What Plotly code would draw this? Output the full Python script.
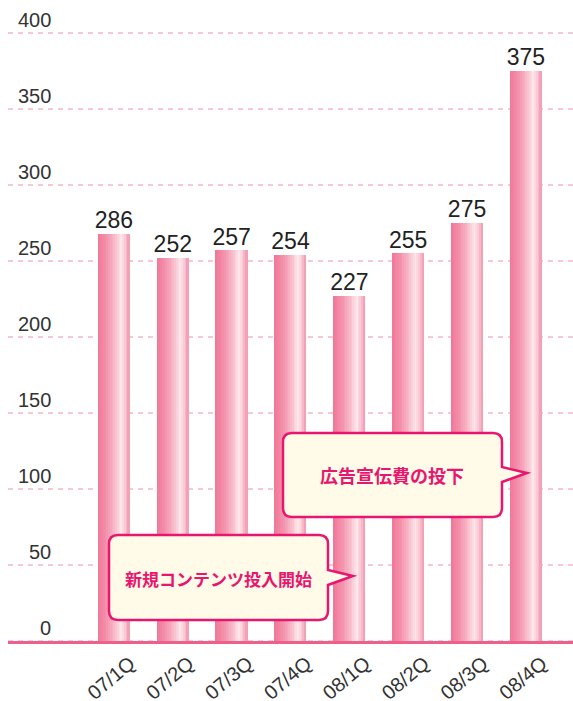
import plotly.graph_objects as go

# ---- data ----
quarters = ["07/1Q", "07/2Q", "07/3Q", "07/4Q", "08/1Q", "08/2Q", "08/3Q", "08/4Q"]
bar_values = [268, 252, 257, 254, 227, 255, 275, 375]
value_labels = ["286", "252", "257", "254", "227", "255", "275", "375"]
y_ticks = [0, 50, 100, 150, 200, 250, 300, 350, 400]
callout_texts = ["新規コンテンツ投入開始", "広告宣伝費の投下"]

# ---- layout geometry ----
W, H = 573, 701
ML, MR, MT, MB = 8, 0, 10, 60
PW, PH = W - ML - MR, H - MT - MB
PX_PER_UNIT = 1.52
Y_MAX = PH / PX_PER_UNIT
X_RANGE = [-1.8, 7.8]
BAR_W = 0.535

NUM_FONT = "Liberation Sans Narrow, Liberation Sans, Arial, sans-serif"
JP_FONT = "Noto Sans CJK JP, sans-serif"
PINK = "#E8166F"
GRID = "#F090AB"

def px(x):
    return (x - ML) / PW

def py(y):
    return (H - MB - y) / PH

# gradient stops across bar width
grad = [(0.0, (240, 118, 150)), (0.3, (244, 148, 174)), (0.55, (248, 189, 203)),
        (0.75, (253, 231, 236)), (0.88, (249, 198, 211)), (1.0, (243, 150, 175))]

def grad_color(t):
    for (a, ca), (b, cb) in zip(grad[:-1], grad[1:]):
        if a <= t <= b:
            f = (t - a) / (b - a)
            c = [round(ca[i] + (cb[i] - ca[i]) * f) for i in range(3)]
            return "rgb(%d,%d,%d)" % tuple(c)
    return "rgb(%d,%d,%d)" % grad[-1][1]

fig = go.Figure()
N = 18
sw = BAR_W / N
for k in range(N):
    t = (k + 0.5) / N
    fig.add_trace(go.Bar(
        x=quarters, y=bar_values, width=sw * 1.08, offset=-BAR_W / 2 + k * sw,
        marker=dict(color=grad_color(t), line=dict(width=0)),
        hoverinfo="skip", showlegend=False,
    ))

fig.add_trace(go.Scatter(
    x=quarters, y=bar_values, mode="text", text=value_labels,
    textposition="top center",
    textfont=dict(family=NUM_FONT, size=23, color="#222222"),
    showlegend=False, hoverinfo="skip", cliponaxis=False,
))

annotations = []
shapes = []
for v in y_ticks:
    annotations.append(dict(
        x=px(53), xref="paper", y=v, yref="y", text=str(v),
        xanchor="right", yanchor="bottom", showarrow=False, yshift=0,
        font=dict(family=NUM_FONT, size=20, color="#333333"),
    ))
    shapes.append(dict(
        type="line", xref="paper", x0=0, x1=1, yref="y", y0=v, y1=v,
        line=dict(color=GRID, width=1, dash="5px,5px"), layer="below",
    ))

def callout_path(x0, y0, x1, y1, r, pb0, pb1, tip):
    pts = []
    pts.append("M %f,%f" % (px(x0 + r), py(y0)))
    pts.append("L %f,%f" % (px(x1 - r), py(y0)))
    pts.append("Q %f,%f %f,%f" % (px(x1), py(y0), px(x1), py(y0 + r)))
    pts.append("L %f,%f" % (px(x1), py(pb0)))
    pts.append("L %f,%f" % (px(tip[0]), py(tip[1])))
    pts.append("L %f,%f" % (px(x1), py(pb1)))
    pts.append("L %f,%f" % (px(x1), py(y1 - r)))
    pts.append("Q %f,%f %f,%f" % (px(x1), py(y1), px(x1 - r), py(y1)))
    pts.append("L %f,%f" % (px(x0 + r), py(y1)))
    pts.append("Q %f,%f %f,%f" % (px(x0), py(y1), px(x0), py(y1 - r)))
    pts.append("L %f,%f" % (px(x0), py(y0 + r)))
    pts.append("Q %f,%f %f,%f" % (px(x0), py(y0), px(x0 + r), py(y0)))
    pts.append("Z")
    return " ".join(pts)

callouts = [
    dict(box=(109, 535, 328, 620), pb=(570, 585), tip=(353, 576), center=(218, 578), size=17),
    dict(box=(283, 433, 502, 517), pb=(467, 482), tip=(527, 473), center=(392, 475), size=18),
]
for c, txt in zip(callouts, callout_texts):
    x0, y0, x1, y1 = c["box"]
    shapes.append(dict(
        type="path", xref="paper", yref="paper",
        path=callout_path(x0, y0, x1, y1, 9, c["pb"][0], c["pb"][1], c["tip"]),
        fillcolor="#FFFBE8", line=dict(color=PINK, width=2.5), layer="above",
    ))
    annotations.append(dict(
        x=px(c["center"][0]), y=py(c["center"][1]), xref="paper", yref="paper",
        text="<b>%s</b>" % txt, showarrow=False, xanchor="center", yanchor="middle",
        font=dict(family=JP_FONT, size=c["size"], color=PINK),
    ))

fig.update_layout(
    width=W, height=H, margin=dict(l=ML, r=MR, t=MT, b=MB, autoexpand=False),
    paper_bgcolor="white", plot_bgcolor="white",
    barmode="overlay", bargap=0,
    showlegend=False,
    xaxis=dict(
        type="category", range=X_RANGE, showgrid=False, zeroline=False,
        showline=True, linecolor="#EE5F8C", linewidth=3,
        ticks="", tickangle=-40, ticklabelshift=16,
        tickfont=dict(family=NUM_FONT, size=20, color="#333333"),
    ),
    yaxis=dict(
        range=[0, Y_MAX], showgrid=False, tickvals=y_ticks, showticklabels=False,
        zeroline=False, showline=False, ticks="",
    ),
    annotations=annotations,
    shapes=shapes,
)

fig.write_html("out.html", config={"displayModeBar": False},
               post_script="document.body.style.margin='0';document.body.style.overflow='hidden';")
